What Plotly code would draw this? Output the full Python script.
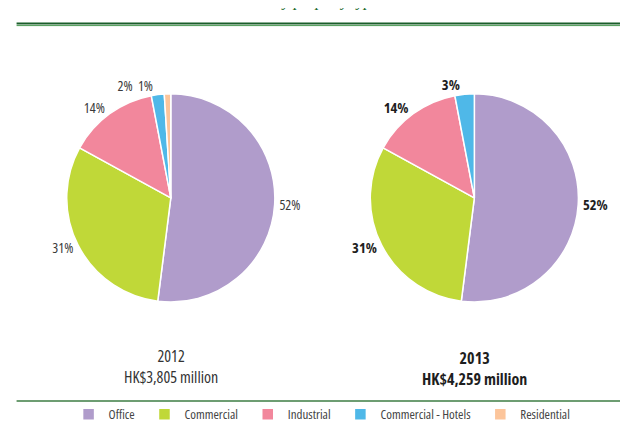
import plotly.graph_objects as go

categories = ["Office", "Commercial", "Industrial", "Commercial - Hotels", "Residential"]
colors = ["#b09ccb", "#c0d838", "#f2879c", "#4fb8e8", "#fcc59b"]
values_2012 = [52, 31, 14, 2, 1]
values_2013 = [52, 31, 14, 3]
labels_2012 = ["52%", "31%", "14%", "2%&nbsp;&nbsp;1%", ""]
labels_2013 = ["52%", "31%", "14%", "3%"]
year_2012 = ["2012", "HK$3,805 million"]
year_2013 = ["2013", "HK$4,259 million"]

FAM = "Open Sans"


def cond(s, bold=False):
    w = "font-weight:bold;" if bold else ""
    return f"<span style='font-stretch:condensed;{w}'>{s}</span>"


legend_names = [cond(c + "&nbsp;&nbsp;") for c in categories]

fig = go.Figure()
fig.add_trace(go.Pie(
    labels=legend_names, values=values_2012, sort=False, direction="clockwise", rotation=0,
    marker=dict(colors=colors, line=dict(color="white", width=1.5)),
    text=[cond(t) for t in labels_2012], textinfo="text",
    textposition=["outside", "outside", "outside", "outside", "none"],
    textfont=dict(family=FAM, size=14, color="#3a3a3a"),
    domain=dict(x=[0.066, 0.466], y=[0.305, 0.797]),
    hoverinfo="percent",
))
fig.add_trace(go.Pie(
    labels=legend_names[:4], values=values_2013, sort=False, direction="clockwise", rotation=0,
    marker=dict(colors=colors[:4], line=dict(color="white", width=1.5)),
    text=[cond(t, True) for t in labels_2013], textinfo="text", textposition="outside",
    textfont=dict(family=FAM, size=14.5, color="#1e1e1e"),
    domain=dict(x=[0.562, 0.962], y=[0.305, 0.797]),
    hoverinfo="percent", showlegend=False,
))

fig.add_annotation(x=0.266, y=0.153, xref="paper", yref="paper", xanchor="center",
                   text="<br>".join(cond(t) for t in year_2012),
                   showarrow=False, yanchor="middle",
                   font=dict(family=FAM, size=16, color="#333333"))
fig.add_annotation(x=0.762, y=0.148, xref="paper", yref="paper", xanchor="center",
                   text="<br>".join(cond(t, True) for t in year_2013),
                   showarrow=False, yanchor="middle",
                   font=dict(family=FAM, size=16, color="#1e1e1e"))

# top header remnant and rules
fig.add_annotation(x=0.47, y=1.0, xref="paper", yref="paper", xanchor="center", yanchor="bottom", yshift=-4,
                   text="<i>Turnover by property type</i>", showarrow=False,
                   font=dict(family="Liberation Serif, serif", size=16, color="#1e6b2e"))
fig.add_shape(type="line", xref="paper", yref="paper", x0=0.014, x1=1, y0=1 - 15.5 / 423, y1=1 - 15.5 / 423,
              line=dict(color="#1a5e2a", width=2.2))
fig.add_shape(type="line", xref="paper", yref="paper", x0=0.014, x1=1, y0=1 - 17.6 / 423, y1=1 - 17.6 / 423,
              line=dict(color="#4a9a52", width=1))
fig.add_shape(type="line", xref="paper", yref="paper", x0=0.014, x1=1, y0=1 - 393 / 423, y1=1 - 393 / 423,
              line=dict(color="#3d7d43", width=1.5))

fig.update_layout(
    width=642, height=423,
    margin=dict(l=0, r=0, t=0, b=0),
    paper_bgcolor="white", plot_bgcolor="white",
    legend=dict(orientation="h", x=0.099, y=0.004, xanchor="left", yanchor="bottom",
                font=dict(family=FAM, size=13, color="#444444"),
                bgcolor="rgba(0,0,0,0)",
                traceorder="normal", itemwidth=30),
)
fig.write_html("out.html")
